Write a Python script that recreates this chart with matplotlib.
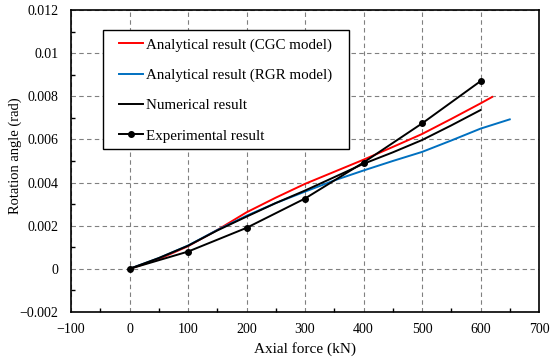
import matplotlib
matplotlib.use('Agg')
from matplotlib import pyplot as plt
from matplotlib.patches import Rectangle
from matplotlib.ticker import MultipleLocator

plt.rcParams['font.family'] = ['Liberation Serif', 'DejaVu Serif']

# 解析解 (CGC 模型)
cgc_x = [0, 50, 100, 150, 200, 250, 300, 350, 400, 450, 500, 550, 600, 620]
cgc_y = [0, 0.00045, 0.00105, 0.0018, 0.00262, 0.0033, 0.00394, 0.0045, 0.00506, 0.00565, 0.00625, 0.00695, 0.00767, 0.00797]

# 解析解 (RGR 模型)
rgr_x = [0, 50, 100, 150, 200, 250, 300, 350, 400, 450, 500, 550, 600, 650]
rgr_y = [0, 0.0005, 0.00108, 0.0018, 0.00246, 0.00305, 0.00358, 0.0041, 0.00456, 0.0050, 0.00542, 0.00595, 0.0065, 0.00693]

# 数值解
num_x = [0, 50, 100, 150, 200, 250, 300, 350, 400, 450, 500, 550, 600]
num_y = [0, 0.0005, 0.00107, 0.00178, 0.00242, 0.00305, 0.00363, 0.00425, 0.00487, 0.0054, 0.00597, 0.00665, 0.00736]

# 试验结果
exp_x = [0, 100, 200, 300, 400, 500, 600]
exp_y = [0, 0.0008, 0.0019, 0.00326, 0.00493, 0.00674, 0.0087]

W, H = 550, 359
fig = plt.figure(figsize=(5.5, 3.59), dpi=100)
ax = fig.add_axes([71 / W, 1 - 312 / H, 468 / W, 302 / H])

ax.plot(cgc_x, cgc_y, color='#ff0000', lw=1.4, label='Analytical result (CGC model)')
ax.plot(rgr_x, rgr_y, color='#0070c0', lw=1.4, label='Analytical result (RGR model)')
ax.plot(num_x, num_y, color='black', lw=1.4, label='Numerical result')
ax.plot(exp_x, exp_y, color='black', lw=1.4, marker='o', ms=4, label='Experimental result')

ax.set_xlim(-100, 700)
ax.set_ylim(-0.002, 0.012)
ax.xaxis.set_minor_locator(MultipleLocator(50))
ax.yaxis.set_minor_locator(MultipleLocator(0.001))
ax.set_yticks([-0.002, 0, 0.002, 0.004, 0.006, 0.008, 0.01, 0.012])
ax.set_yticklabels(['\u22120.002', '0', '0.002', '0.004', '0.006', '0.008', '0.01', '0.012'])
ax.set_xticks(range(-100, 701, 100))
ax.set_xticklabels(['\u2212100'] + [str(v) for v in range(0, 701, 100)])
ax.tick_params(which='both', direction='in', labelsize=10, width=1)
ax.tick_params(which='major', length=0)
ax.tick_params(which='minor', length=3)
ax.tick_params(axis='x', pad=8)
ax.tick_params(axis='y', pad=9)
ax.grid(True, which='major', ls=(0, (4, 3)), color='#808080', lw=0.8)
for s in ax.spines.values():
    s.set_linewidth(1.2)

ax.set_xlabel('Axial force (kN)', fontsize=11)
ax.set_ylabel('Rotation angle (rad)', fontsize=10.5)
ax.xaxis.set_label_coords(0.5, -30 / 302)
ax.yaxis.set_label_coords(-49 / 468, 0.517)

# 图例框单独画，内边距左右比上下大
box = Rectangle((103 / W, 1 - 149 / H), 246 / W, 119 / H, transform=fig.transFigure,
                facecolor='white', edgecolor='black', lw=1.0, zorder=4.5)
ax.add_patch(box)
leg = ax.legend(loc='upper left', bbox_to_anchor=(119 / W, 1 - 38 / H),
                bbox_transform=fig.transFigure, fontsize=10.8,
                frameon=False, handlelength=1.6, handletextpad=0.2,
                labelspacing=1.12, borderpad=0, borderaxespad=0)

plt.savefig('out.png', dpi=100)
plt.close()
